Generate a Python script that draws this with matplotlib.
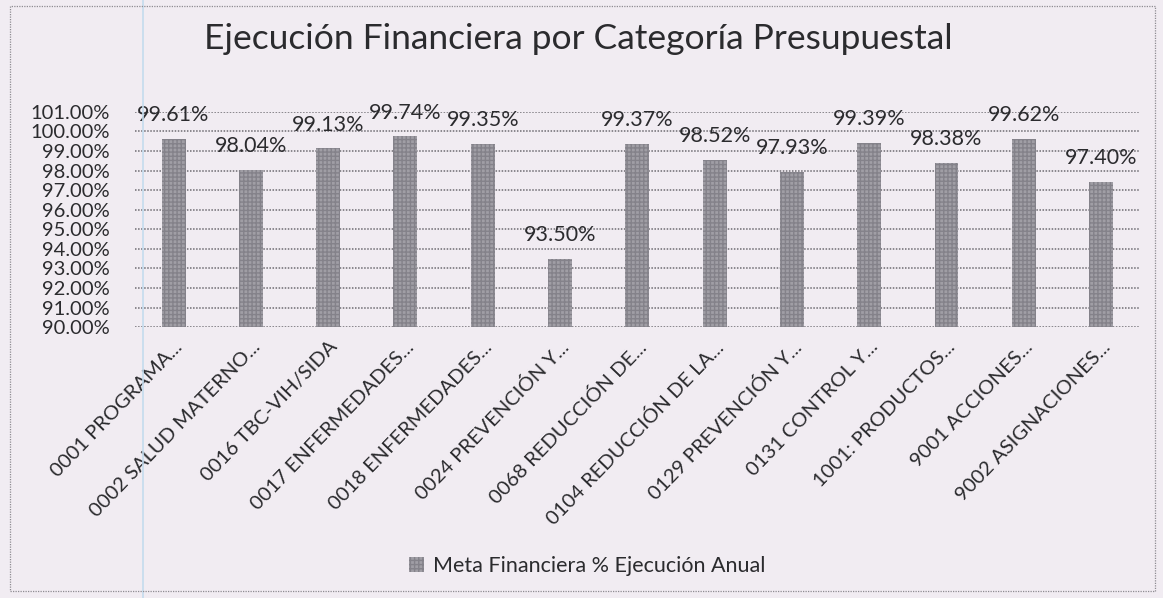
import numpy as np
import matplotlib.pyplot as plt
from matplotlib.patches import Rectangle
from matplotlib.lines import Line2D

# data
categorias = ["0001 PROGRAMA...", "0002 SALUD MATERNO...", "0016 TBC-VIH/SIDA",
              "0017 ENFERMEDADES...", "0018 ENFERMEDADES...", "0024 PREVENCIÓN Y...",
              "0068 REDUCCIÓN DE...", "0104 REDUCCIÓN DE LA...", "0129 PREVENCIÓN Y...",
              "0131 CONTROL Y...", "1001: PRODUCTOS...", "9001 ACCIONES...",
              "9002 ASIGNACIONES..."]
ejecucion = [99.61, 98.04, 99.13, 99.74, 99.35, 93.50, 99.37, 98.52, 97.93,
             99.39, 98.38, 99.62, 97.40]
yticks = np.arange(90, 102, 1)

plt.rcParams['font.family'] = ['Lato', 'DejaVu Sans']
bg = '#f1ecf2'
texto = '#2b2b2e'

fig = plt.figure(figsize=(11.63, 5.98), dpi=100, facecolor=bg)
ax = fig.add_axes([0.116, 0.453, 0.864, 0.36], facecolor=bg)

x = np.arange(len(categorias))
ax.bar(x, ejecucion, width=0.31, bottom=0, color='#a09ea5',
       edgecolor='#84828a', hatch='++++', linewidth=0,
       label='Meta Financiera % Ejecución Anual', zorder=3)

for xi, v in zip(x, ejecucion):
    ax.annotate(f"{v:.2f}%", (xi, v), xytext=(0, 10), textcoords='offset points',
                ha='center', va='bottom', fontsize=15.5, color=texto, zorder=4)

ax.set_ylim(90, 101)
ax.set_xlim(-0.5, len(categorias) - 0.5)
ax.set_yticks(yticks)
ax.set_yticklabels([f"{t:.2f}%" for t in yticks], fontsize=14.5, color=texto)
ax.yaxis.grid(True, color='#6e6c72', linestyle=(0, (1, 1)), linewidth=1.1, zorder=1)
ax.set_xticks(x)
ax.set_xticklabels(categorias, rotation=46, ha='right', rotation_mode='anchor',
                   fontsize=14.5, color=texto)
ax.tick_params(axis='y', length=0, pad=18)
ax.tick_params(axis='x', length=0, pad=8)
for s in ax.spines.values():
    s.set_visible(False)

fig.text(0.497, 0.935, "Ejecución Financiera por Categoría Presupuestal",
         ha='center', va='center', fontsize=25.5, color=texto)

ax.legend(loc='center', bbox_to_anchor=(0.45, -1.11), frameon=False,
          fontsize=15.5, handlelength=0.7, handleheight=0.7, handletextpad=0.4,
          labelcolor=texto)

# border of the chart area and the fold line of the scan
fig.patches.append(Rectangle((0.009, 0.012), 0.984, 0.978, transform=fig.transFigure,
                             fill=False, edgecolor='#8e8c92', linestyle=(0, (1, 1)),
                             linewidth=0.9))
fig.lines.append(Line2D([0.123, 0.123], [0.0, 1.0], transform=fig.transFigure,
                        color='#c4dcee', linewidth=1.2, zorder=0))

fig.savefig('out.png', dpi=100, facecolor=bg)
